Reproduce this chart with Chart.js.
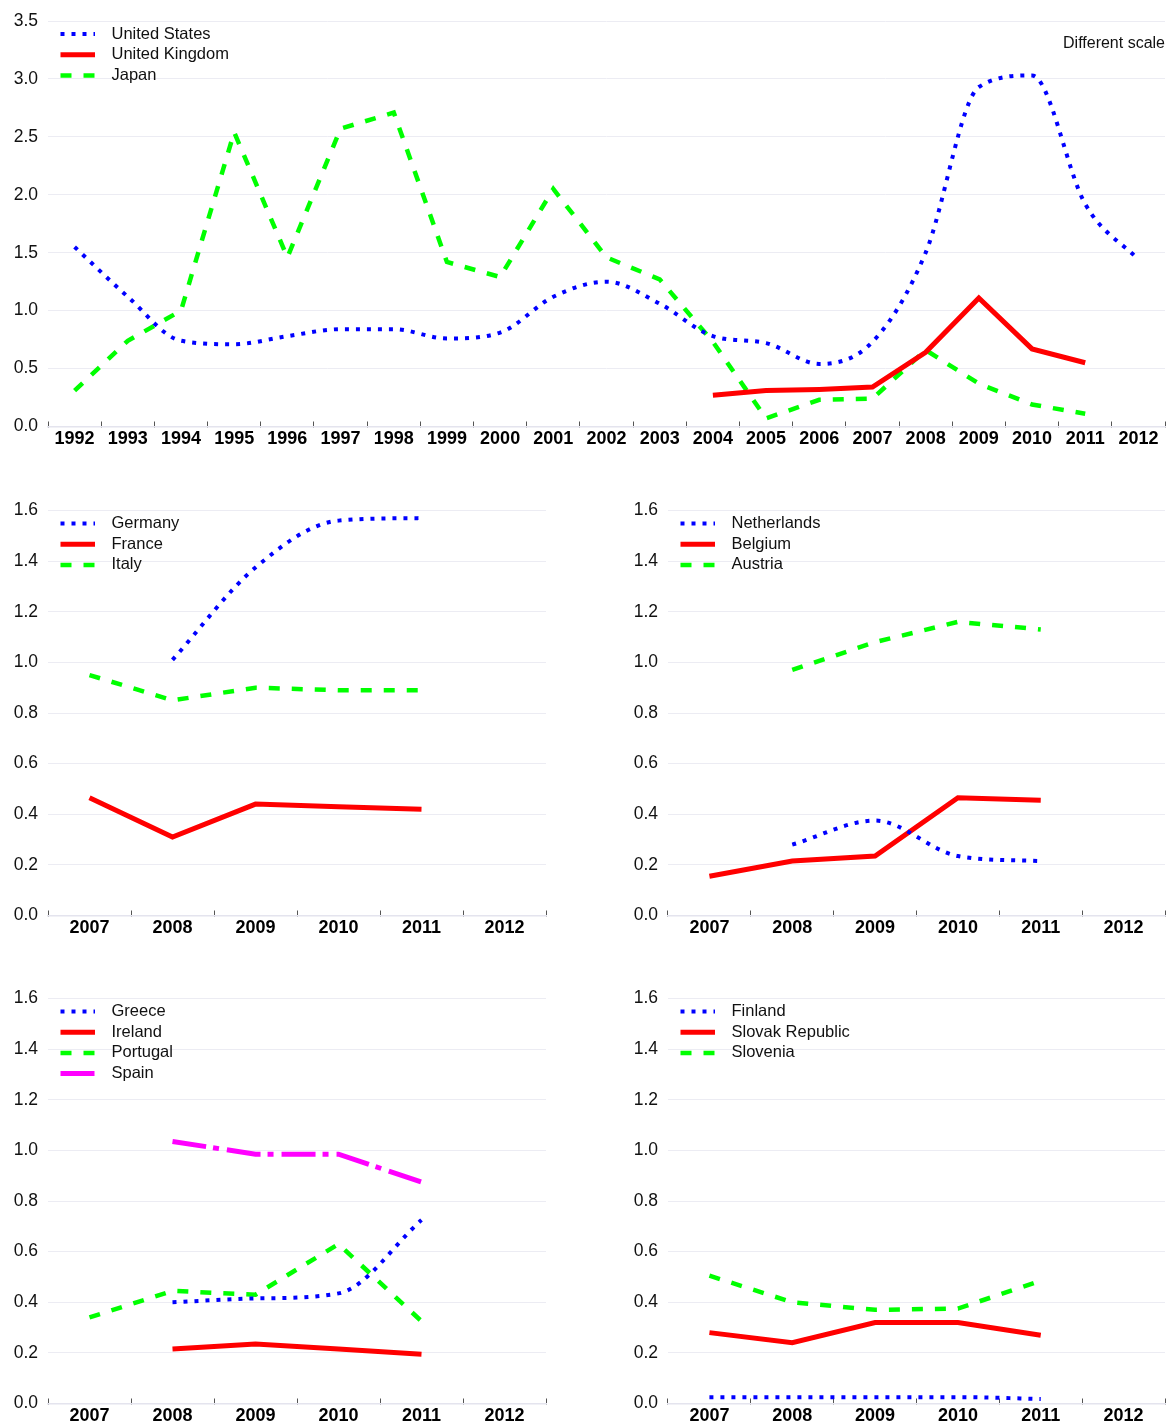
<!DOCTYPE html>
<html><head><meta charset="utf-8">
<script src="https://cdn.jsdelivr.net/npm/chart.js@4.4.1/dist/chart.umd.min.js"></script>
<style>
html,body{margin:0;padding:0;background:#fff;overflow:hidden;width:1168px;height:1424px;position:relative;}
canvas{position:absolute;}
#note{position:absolute;right:3px;top:33px;font:16px "Liberation Sans",Arial,sans-serif;color:#111;line-height:20px;white-space:nowrap;}
</style></head><body>
<canvas id="c1" width="1168" height="447" style="left:0;top:0"></canvas>
<canvas id="c2" width="560" height="446" style="left:0;top:490px"></canvas>
<canvas id="c3" width="548" height="446" style="left:620px;top:490px"></canvas>
<canvas id="c4" width="560" height="446" style="left:0;top:978px"></canvas>
<canvas id="c5" width="548" height="446" style="left:620px;top:978px"></canvas>
<div id="note">Different scale</div>
<script>
// ---- data ----
const yearsLong = ['1992','1993','1994','1995','1996','1997','1998','1999','2000','2001','2002','2003','2004','2005','2006','2007','2008','2009','2010','2011','2012'];
const yearsShort = ['2007','2008','2009','2010','2011','2012'];

const unitedStates = [1.55,1.12,0.74,0.71,0.78,0.84,0.84,0.76,0.81,1.12,1.25,1.06,0.78,0.72,0.54,0.73,1.50,2.93,3.03,1.92,1.44];
const unitedKingdom = [null,null,null,null,null,null,null,null,null,null,null,null,0.27,0.31,0.32,0.34,0.64,1.11,0.67,0.55,null];
const japan = [0.31,0.74,1.00,2.54,1.46,2.57,2.71,1.42,1.29,2.05,1.46,1.27,0.73,0.07,0.23,0.24,0.66,0.37,0.19,0.11,null];

const germany = [null,1.01,1.375,1.56,1.57,null];
const france = [0.465,0.31,0.44,0.43,0.42,null];
const italy = [0.95,0.85,0.90,0.89,0.89,null];

const netherlands = [null,0.28,0.375,0.235,0.215,null];
const belgium = [0.155,0.215,0.235,0.465,0.455,null];
const austria = [null,0.97,1.08,1.16,1.13,null];

const greece = [null,0.40,0.415,0.435,0.725,null];
const ireland = [null,0.215,0.235,0.215,0.195,null];
const portugal = [0.34,0.445,0.43,0.63,0.325,null];
const spain = [null,1.035,0.985,0.985,0.875,null];

const finland = [0.025,0.025,0.025,0.025,0.018,null];
const slovakRepublic = [0.28,0.24,0.32,0.32,0.27,null];
const slovenia = [0.505,0.40,0.37,0.375,0.485,null];

// ---- styles ----
const FONT = '"Liberation Sans", Arial, sans-serif';
Chart.defaults.font.family = FONT;
const GRID = '#ececf3';

function dotted(label, data){ return {label, data, borderColor:'#0000ff', borderWidth:4, borderDash:[4,7], cubicInterpolationMode:'monotone', pointRadius:0, fill:false, spanGaps:false}; }
function solid(label, data){ return {label, data, borderColor:'#ff0000', borderWidth:5, tension:0, pointRadius:0, fill:false}; }
function dashed(label, data){ return {label, data, borderColor:'#00ff00', borderWidth:4.5, borderDash:[11,12], tension:0, pointRadius:0, fill:false}; }
function dashDot(label, data){ return {label, data, borderColor:'#ff00ff', borderWidth:5, borderDash:[34,7,6,8], tension:0, pointRadius:0, fill:false}; }

const insideLegend = {
  id:'insideLegend',
  afterDraw(chart){
    const ctx = chart.ctx, a = chart.chartArea;
    ctx.save();
    chart.data.datasets.forEach((ds,i)=>{
      const y = a.top + 13 + i*20.7;
      ctx.beginPath();
      ctx.strokeStyle = ds.borderColor;
      ctx.lineWidth = ds.borderWidth;
      ctx.lineCap = 'butt';
      ctx.setLineDash(ds.borderDash || []);
      ctx.moveTo(a.left+12.5, y); ctx.lineTo(a.left+47, y); ctx.stroke();
      ctx.setLineDash([]);
      ctx.fillStyle = '#111';
      ctx.font = '16.5px ' + FONT;
      ctx.textBaseline = 'middle';
      ctx.textAlign = 'left';
      ctx.fillText(ds.label, a.left+63.5, y);
    });
    ctx.restore();
  }
};

function makeChart(id, labels, datasets, yMax, step, padTop, padRight, xHeight){
  return new Chart(document.getElementById(id), {
    type:'line',
    data:{labels, datasets},
    options:{
      responsive:false, animation:false, devicePixelRatio:1,
      layout:{padding:{top:padTop, right:padRight, left:0, bottom:0}},
      plugins:{legend:{display:false}, tooltip:{enabled:false}},
      scales:{
        x:{
          offset:true,
          grid:{offset:true, drawOnChartArea:false, drawTicks:true, tickLength:-5, color:'#555', lineWidth:1},
          border:{display:true, color:'#e4e4ee', width:1.5},
          ticks:{font:{size:18, weight:'bold'}, color:'#000', padding:7, maxRotation:0, autoSkip:false},
          afterFit(s){ s.height = xHeight; }
        },
        y:{
          min:0, max:yMax,
          grid:{color:GRID, drawTicks:false, lineWidth:1},
          border:{display:false},
          ticks:{stepSize:step, font:{size:17.5}, color:'#111', padding:10, callback:v=>Number(v).toFixed(1)},
          afterFit(s){ s.width = 48; }
        }
      }
    },
    plugins:[insideLegend]
  });
}

makeChart('c1', yearsLong, [dotted('United States', unitedStates), solid('United Kingdom', unitedKingdom), dashed('Japan', japan)], 3.5, 0.5, 21, 3, 20.5);
makeChart('c2', yearsShort, [dotted('Germany', germany), solid('France', france), dashed('Italy', italy)], 1.6, 0.2, 20, 14, 20);
makeChart('c3', yearsShort, [dotted('Netherlands', netherlands), solid('Belgium', belgium), dashed('Austria', austria)], 1.6, 0.2, 20, 3, 20);
makeChart('c4', yearsShort, [dotted('Greece', greece), solid('Ireland', ireland), dashed('Portugal', portugal), dashDot('Spain', spain)], 1.6, 0.2, 20, 14, 20.5);
makeChart('c5', yearsShort, [dotted('Finland', finland), solid('Slovak Republic', slovakRepublic), dashed('Slovenia', slovenia)], 1.6, 0.2, 20, 3, 20.5);
</script>
</body></html>
